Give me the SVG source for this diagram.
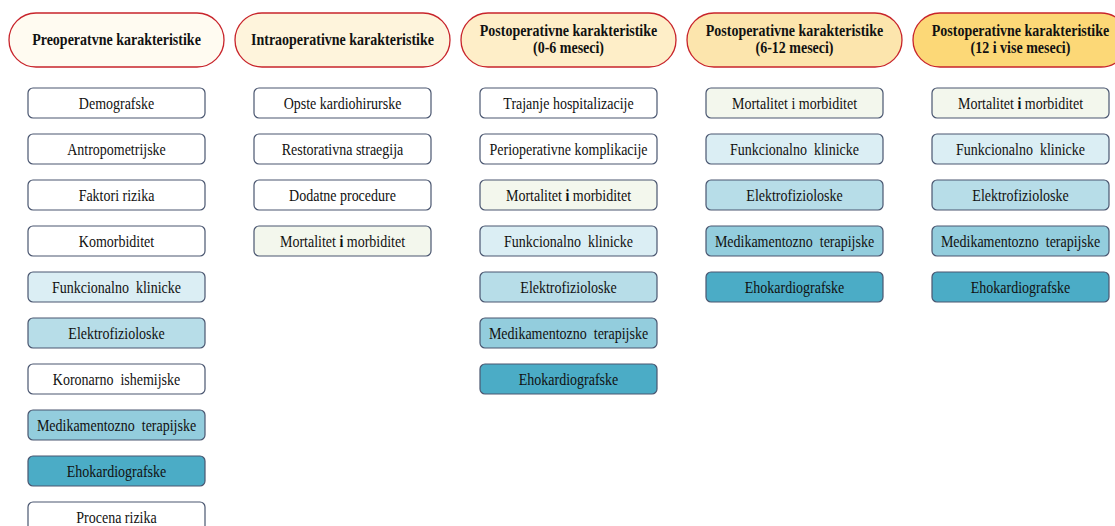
<svg xmlns="http://www.w3.org/2000/svg" width="1115" height="526" viewBox="0 0 1115 526">
  <style>
    .hdr { stroke: #c8242b; stroke-width: 1.3; }
    .h1 { fill: #fffbf1; }
    .h2 { fill: #fef4dc; }
    .h3 { fill: #feeec8; }
    .h4 { fill: #fce5ad; }
    .h5 { fill: #fcd877; }
    .ht { font-family: "Liberation Serif", "Times New Roman", serif; font-size: 16px; font-weight: bold; fill: #111; text-anchor: middle; }
    .box { stroke: #4a5670; stroke-width: 1.2; }
    .w { fill: #ffffff; }
    .g { fill: #f3f7ed; }
    .b1 { fill: #dbeef4; }
    .b2 { fill: #b7dde8; }
    .b3 { fill: #93cddd; }
    .b4 { fill: #4bacc6; }
    .t { font-family: "Liberation Serif", "Times New Roman", serif; font-size: 16px; fill: #111; text-anchor: middle; white-space: pre; }
  </style>

  <!-- column headers (text narrowed to a condensed Times look) -->
  <g id="hdr-preop">
    <rect class="hdr h1" x="9" y="13" width="215" height="54" rx="27"/>
    <text class="ht" transform="translate(116.5,45) scale(0.875,1)">Preoperatvne karakteristike</text>
  </g>
  <g id="hdr-intraop">
    <rect class="hdr h2" x="235" y="13" width="215" height="54" rx="27"/>
    <text class="ht" transform="translate(342.5,45) scale(0.875,1)">Intraoperativne karakteristike</text>
  </g>
  <g id="hdr-postop-0-6">
    <rect class="hdr h3" x="461" y="13" width="215" height="54" rx="27"/>
    <text class="ht" transform="translate(568.5,36) scale(0.875,1)">Postoperativne karakteristike</text>
    <text class="ht" transform="translate(568.5,53) scale(0.875,1)">(0-6 meseci)</text>
  </g>
  <g id="hdr-postop-6-12">
    <rect class="hdr h4" x="687" y="13" width="215" height="54" rx="27"/>
    <text class="ht" transform="translate(794.5,36) scale(0.875,1)">Postoperativne karakteristike</text>
    <text class="ht" transform="translate(794.5,53) scale(0.875,1)">(6-12 meseci)</text>
  </g>
  <g id="hdr-postop-12plus">
    <rect class="hdr h5" x="913" y="13" width="215" height="54" rx="27"/>
    <text class="ht" transform="translate(1020.5,36) scale(0.875,1)">Postoperativne karakteristike</text>
    <text class="ht" transform="translate(1020.5,53) scale(0.875,1)">(12 i vise meseci)</text>
  </g>

  <!-- preoperative items -->
  <g id="pre-1"><rect class="box w" x="28" y="88" width="177" height="30" rx="5"/><text class="t" transform="translate(116.5,109) scale(0.875,1)">Demografske</text></g>
  <g id="pre-2"><rect class="box w" x="28" y="134" width="177" height="30" rx="5"/><text class="t" transform="translate(116.5,155) scale(0.875,1)">Antropometrijske</text></g>
  <g id="pre-3"><rect class="box w" x="28" y="180" width="177" height="30" rx="5"/><text class="t" transform="translate(116.5,201) scale(0.875,1)">Faktori rizika</text></g>
  <g id="pre-4"><rect class="box w" x="28" y="226" width="177" height="30" rx="5"/><text class="t" transform="translate(116.5,247) scale(0.875,1)">Komorbiditet</text></g>
  <g id="pre-5"><rect class="box b1" x="28" y="272" width="177" height="30" rx="5"/><text class="t" transform="translate(116.5,293) scale(0.875,1)">Funkcionalno  klinicke</text></g>
  <g id="pre-6"><rect class="box b2" x="28" y="318" width="177" height="30" rx="5"/><text class="t" transform="translate(116.5,339) scale(0.875,1)">Elektrofizioloske</text></g>
  <g id="pre-7"><rect class="box w" x="28" y="364" width="177" height="30" rx="5"/><text class="t" transform="translate(116.5,385) scale(0.875,1)">Koronarno  ishemijske</text></g>
  <g id="pre-8"><rect class="box b3" x="28" y="410" width="177" height="30" rx="5"/><text class="t" transform="translate(116.5,431) scale(0.875,1)">Medikamentozno  terapijske</text></g>
  <g id="pre-9"><rect class="box b4" x="28" y="456" width="177" height="30" rx="5"/><text class="t" transform="translate(116.5,477) scale(0.875,1)">Ehokardiografske</text></g>
  <g id="pre-10"><rect class="box w" x="28" y="502" width="177" height="30" rx="5"/><text class="t" transform="translate(116.5,523) scale(0.875,1)">Procena rizika</text></g>

  <!-- intraoperative items -->
  <g id="intra-1"><rect class="box w" x="254" y="88" width="177" height="30" rx="5"/><text class="t" transform="translate(342.5,109) scale(0.875,1)">Opste kardiohirurske</text></g>
  <g id="intra-2"><rect class="box w" x="254" y="134" width="177" height="30" rx="5"/><text class="t" transform="translate(342.5,155) scale(0.875,1)">Restorativna straegija</text></g>
  <g id="intra-3"><rect class="box w" x="254" y="180" width="177" height="30" rx="5"/><text class="t" transform="translate(342.5,201) scale(0.875,1)">Dodatne procedure</text></g>
  <g id="intra-4"><rect class="box g" x="254" y="226" width="177" height="30" rx="5"/><text class="t" transform="translate(342.5,247) scale(0.875,1)">Mortalitet <tspan font-weight="bold">i</tspan> morbiditet</text></g>

  <!-- postoperative 0-6 months -->
  <g id="p06-1"><rect class="box w" x="480" y="88" width="177" height="30" rx="5"/><text class="t" transform="translate(568.5,109) scale(0.875,1)">Trajanje hospitalizacije</text></g>
  <g id="p06-2"><rect class="box w" x="480" y="134" width="177" height="30" rx="5"/><text class="t" transform="translate(568.5,155) scale(0.875,1)">Perioperativne komplikacije</text></g>
  <g id="p06-3"><rect class="box g" x="480" y="180" width="177" height="30" rx="5"/><text class="t" transform="translate(568.5,201) scale(0.875,1)">Mortalitet <tspan font-weight="bold">i</tspan> morbiditet</text></g>
  <g id="p06-4"><rect class="box b1" x="480" y="226" width="177" height="30" rx="5"/><text class="t" transform="translate(568.5,247) scale(0.875,1)">Funkcionalno  klinicke</text></g>
  <g id="p06-5"><rect class="box b2" x="480" y="272" width="177" height="30" rx="5"/><text class="t" transform="translate(568.5,293) scale(0.875,1)">Elektrofizioloske</text></g>
  <g id="p06-6"><rect class="box b3" x="480" y="318" width="177" height="30" rx="5"/><text class="t" transform="translate(568.5,339) scale(0.875,1)">Medikamentozno  terapijske</text></g>
  <g id="p06-7"><rect class="box b4" x="480" y="364" width="177" height="30" rx="5"/><text class="t" transform="translate(568.5,385) scale(0.875,1)">Ehokardiografske</text></g>

  <!-- postoperative 6-12 months -->
  <g id="p612-1"><rect class="box g" x="706" y="88" width="177" height="30" rx="5"/><text class="t" transform="translate(794.5,109) scale(0.875,1)">Mortalitet i morbiditet</text></g>
  <g id="p612-2"><rect class="box b1" x="706" y="134" width="177" height="30" rx="5"/><text class="t" transform="translate(794.5,155) scale(0.875,1)">Funkcionalno  klinicke</text></g>
  <g id="p612-3"><rect class="box b2" x="706" y="180" width="177" height="30" rx="5"/><text class="t" transform="translate(794.5,201) scale(0.875,1)">Elektrofizioloske</text></g>
  <g id="p612-4"><rect class="box b3" x="706" y="226" width="177" height="30" rx="5"/><text class="t" transform="translate(794.5,247) scale(0.875,1)">Medikamentozno  terapijske</text></g>
  <g id="p612-5"><rect class="box b4" x="706" y="272" width="177" height="30" rx="5"/><text class="t" transform="translate(794.5,293) scale(0.875,1)">Ehokardiografske</text></g>

  <!-- postoperative 12+ months -->
  <g id="p12-1"><rect class="box g" x="932" y="88" width="177" height="30" rx="5"/><text class="t" transform="translate(1020.5,109) scale(0.875,1)">Mortalitet <tspan font-weight="bold">i</tspan> morbiditet</text></g>
  <g id="p12-2"><rect class="box b1" x="932" y="134" width="177" height="30" rx="5"/><text class="t" transform="translate(1020.5,155) scale(0.875,1)">Funkcionalno  klinicke</text></g>
  <g id="p12-3"><rect class="box b2" x="932" y="180" width="177" height="30" rx="5"/><text class="t" transform="translate(1020.5,201) scale(0.875,1)">Elektrofizioloske</text></g>
  <g id="p12-4"><rect class="box b3" x="932" y="226" width="177" height="30" rx="5"/><text class="t" transform="translate(1020.5,247) scale(0.875,1)">Medikamentozno  terapijske</text></g>
  <g id="p12-5"><rect class="box b4" x="932" y="272" width="177" height="30" rx="5"/><text class="t" transform="translate(1020.5,293) scale(0.875,1)">Ehokardiografske</text></g>

  <g id="connectors"/>
</svg>
